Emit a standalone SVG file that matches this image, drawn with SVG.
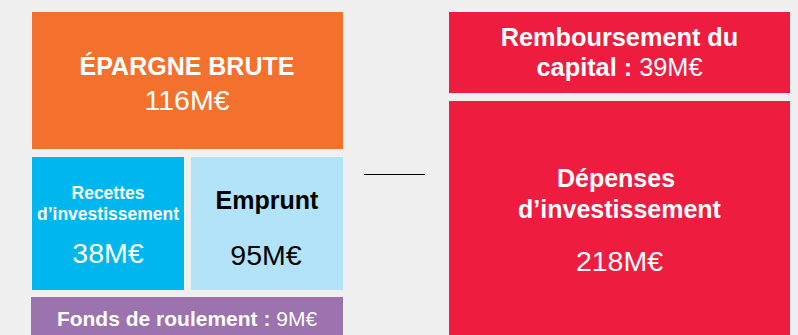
<svg xmlns="http://www.w3.org/2000/svg" width="798" height="335" viewBox="0 0 798 335">
<style>
text{font-family:"Liberation Sans",Arial,Helvetica,sans-serif;text-anchor:middle}
.b{font-weight:bold}
.w{fill:#ffffff}
.k{fill:#000000}
</style>
<rect x="0" y="0" width="798" height="335" fill="#f0f0f0"/>
<g id="epargne">
<rect x="32" y="12" width="311" height="137" fill="#f3702d"/>
<text class="b w" x="187" y="75" font-size="25">ÉPARGNE BRUTE</text>
<text class="w" x="187" y="110" font-size="28.5">116M€</text>
</g>
<g id="recettes">
<rect x="32" y="157" width="152" height="133" fill="#00b6ef"/>
<text class="b w" x="108" y="199" font-size="17.5">Recettes</text>
<text class="b w" x="108" y="220" font-size="17.5">d’investissement</text>
<text class="w" x="108" y="263" font-size="28.5">38M€</text>
</g>
<g id="emprunt">
<rect x="191" y="157" width="152" height="133" fill="#b3e3f9"/>
<text class="b k" x="267" y="209" font-size="25">Emprunt</text>
<text class="k" x="266" y="265" font-size="28.5">95M€</text>
</g>
<g id="fonds">
<rect x="31" y="297" width="312" height="40" fill="#9c72af"/>
<text class="w" x="187" y="326" font-size="21"><tspan font-weight="bold">Fonds de roulement : </tspan>9M€</text>
</g>
<g id="remboursement">
<rect x="449" y="12" width="341" height="81" fill="#ee1c3e"/>
<text class="b w" x="619.5" y="46" font-size="25.3">Remboursement du</text>
<text class="w" x="619.5" y="76" font-size="25.3"><tspan font-weight="bold">capital : </tspan>39M€</text>
</g>
<g id="depenses">
<rect x="449" y="101" width="341" height="236" fill="#ee1c3e"/>
<text class="b w" x="616" y="187" font-size="25">Dépenses</text>
<text class="b w" x="619.5" y="218" font-size="25">d’investissement</text>
<text class="w" x="619.5" y="271" font-size="28.5">218M€</text>
</g>
<g id="connectors">
<line x1="364" y1="174.5" x2="425" y2="174.5" stroke="#000000" stroke-width="1"/>
</g>
</svg>
